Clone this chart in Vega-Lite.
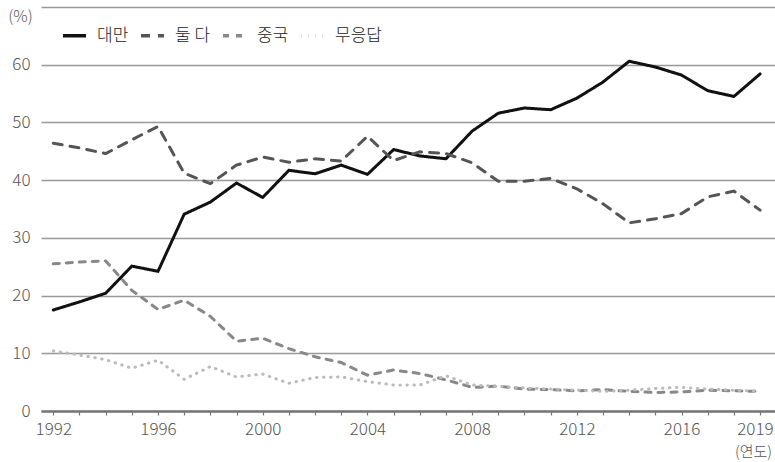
{
  "$schema": "https://vega.github.io/schema/vega-lite/v6.json",
  "width": 734,
  "height": 404,
  "autosize": {"type": "none"},
  "padding": {"left": 41, "top": 7, "right": 0, "bottom": 51},
  "background": "white",
  "config": {
    "view": {"stroke": null},
    "font": "Noto Sans CJK KR"
  },
  "datasets": {
    "main": [
      {"year": 1992, "group": "대만", "value": 17.5},
      {"year": 1993, "group": "대만", "value": 18.9},
      {"year": 1994, "group": "대만", "value": 20.4},
      {"year": 1995, "group": "대만", "value": 25.1},
      {"year": 1996, "group": "대만", "value": 24.2},
      {"year": 1997, "group": "대만", "value": 34.1},
      {"year": 1998, "group": "대만", "value": 36.2},
      {"year": 1999, "group": "대만", "value": 39.5},
      {"year": 2000, "group": "대만", "value": 37.0},
      {"year": 2001, "group": "대만", "value": 41.7},
      {"year": 2002, "group": "대만", "value": 41.1},
      {"year": 2003, "group": "대만", "value": 42.6},
      {"year": 2004, "group": "대만", "value": 41.0},
      {"year": 2005, "group": "대만", "value": 45.3},
      {"year": 2006, "group": "대만", "value": 44.2},
      {"year": 2007, "group": "대만", "value": 43.7},
      {"year": 2008, "group": "대만", "value": 48.5},
      {"year": 2009, "group": "대만", "value": 51.6},
      {"year": 2010, "group": "대만", "value": 52.5},
      {"year": 2011, "group": "대만", "value": 52.2},
      {"year": 2012, "group": "대만", "value": 54.2},
      {"year": 2013, "group": "대만", "value": 57.0},
      {"year": 2014, "group": "대만", "value": 60.6},
      {"year": 2015, "group": "대만", "value": 59.6},
      {"year": 2016, "group": "대만", "value": 58.2},
      {"year": 2017, "group": "대만", "value": 55.5},
      {"year": 2018, "group": "대만", "value": 54.5},
      {"year": 2019, "group": "대만", "value": 58.4},
      {"year": 1992, "group": "둘 다", "value": 46.4},
      {"year": 1993, "group": "둘 다", "value": 45.6},
      {"year": 1994, "group": "둘 다", "value": 44.6},
      {"year": 1995, "group": "둘 다", "value": 47.0},
      {"year": 1996, "group": "둘 다", "value": 49.3},
      {"year": 1997, "group": "둘 다", "value": 41.2},
      {"year": 1998, "group": "둘 다", "value": 39.4},
      {"year": 1999, "group": "둘 다", "value": 42.6},
      {"year": 2000, "group": "둘 다", "value": 44.0},
      {"year": 2001, "group": "둘 다", "value": 43.1},
      {"year": 2002, "group": "둘 다", "value": 43.7},
      {"year": 2003, "group": "둘 다", "value": 43.3},
      {"year": 2004, "group": "둘 다", "value": 47.6},
      {"year": 2005, "group": "둘 다", "value": 43.4},
      {"year": 2006, "group": "둘 다", "value": 44.9},
      {"year": 2007, "group": "둘 다", "value": 44.6},
      {"year": 2008, "group": "둘 다", "value": 43.0},
      {"year": 2009, "group": "둘 다", "value": 39.8},
      {"year": 2010, "group": "둘 다", "value": 39.8},
      {"year": 2011, "group": "둘 다", "value": 40.3},
      {"year": 2012, "group": "둘 다", "value": 38.5},
      {"year": 2013, "group": "둘 다", "value": 35.9},
      {"year": 2014, "group": "둘 다", "value": 32.6},
      {"year": 2015, "group": "둘 다", "value": 33.3},
      {"year": 2016, "group": "둘 다", "value": 34.2},
      {"year": 2017, "group": "둘 다", "value": 37.1},
      {"year": 2018, "group": "둘 다", "value": 38.1},
      {"year": 2019, "group": "둘 다", "value": 34.8},
      {"year": 1992, "group": "중국", "value": 25.5},
      {"year": 1993, "group": "중국", "value": 25.8},
      {"year": 1994, "group": "중국", "value": 26.0},
      {"year": 1995, "group": "중국", "value": 20.9},
      {"year": 1996, "group": "중국", "value": 17.6},
      {"year": 1997, "group": "중국", "value": 19.2},
      {"year": 1998, "group": "중국", "value": 16.4},
      {"year": 1999, "group": "중국", "value": 12.1},
      {"year": 2000, "group": "중국", "value": 12.6},
      {"year": 2001, "group": "중국", "value": 10.8},
      {"year": 2002, "group": "중국", "value": 9.4},
      {"year": 2003, "group": "중국", "value": 8.4},
      {"year": 2004, "group": "중국", "value": 6.2},
      {"year": 2005, "group": "중국", "value": 7.1},
      {"year": 2006, "group": "중국", "value": 6.5},
      {"year": 2007, "group": "중국", "value": 5.4},
      {"year": 2008, "group": "중국", "value": 4.1},
      {"year": 2009, "group": "중국", "value": 4.3},
      {"year": 2010, "group": "중국", "value": 3.8},
      {"year": 2011, "group": "중국", "value": 3.7},
      {"year": 2012, "group": "중국", "value": 3.5},
      {"year": 2013, "group": "중국", "value": 3.7},
      {"year": 2014, "group": "중국", "value": 3.4},
      {"year": 2015, "group": "중국", "value": 3.2},
      {"year": 2016, "group": "중국", "value": 3.3},
      {"year": 2017, "group": "중국", "value": 3.6},
      {"year": 2018, "group": "중국", "value": 3.5},
      {"year": 2019, "group": "중국", "value": 3.4},
      {"year": 1992, "group": "무응답", "value": 10.4},
      {"year": 1993, "group": "무응답", "value": 9.7},
      {"year": 1994, "group": "무응답", "value": 8.9},
      {"year": 1995, "group": "무응답", "value": 7.4},
      {"year": 1996, "group": "무응답", "value": 8.8},
      {"year": 1997, "group": "무응답", "value": 5.5},
      {"year": 1998, "group": "무응답", "value": 7.7},
      {"year": 1999, "group": "무응답", "value": 5.9},
      {"year": 2000, "group": "무응답", "value": 6.4},
      {"year": 2001, "group": "무응답", "value": 4.8},
      {"year": 2002, "group": "무응답", "value": 5.8},
      {"year": 2003, "group": "무응답", "value": 5.9},
      {"year": 2004, "group": "무응답", "value": 5.1},
      {"year": 2005, "group": "무응답", "value": 4.5},
      {"year": 2006, "group": "무응답", "value": 4.5},
      {"year": 2007, "group": "무응답", "value": 6.1},
      {"year": 2008, "group": "무응답", "value": 4.5},
      {"year": 2009, "group": "무응답", "value": 4.3},
      {"year": 2010, "group": "무응답", "value": 4.0},
      {"year": 2011, "group": "무응답", "value": 3.8},
      {"year": 2012, "group": "무응답", "value": 3.6},
      {"year": 2013, "group": "무응답", "value": 3.4},
      {"year": 2014, "group": "무응답", "value": 3.6},
      {"year": 2015, "group": "무응답", "value": 3.9},
      {"year": 2016, "group": "무응답", "value": 4.1},
      {"year": 2017, "group": "무응답", "value": 3.8},
      {"year": 2018, "group": "무응답", "value": 3.6},
      {"year": 2019, "group": "무응답", "value": 3.4}
    ]
  },
  "data": {"name": "main"},
  "mark": {"type": "line", "strokeWidth": 3, "strokeCap": "round", "strokeJoin": "miter"},
  "encoding": {
    "x": {
      "field": "year",
      "type": "quantitative",
      "scale": {"domain": [1991.53, 2019.57], "nice": false, "zero": false},
      "axis": {
        "title": "(연도)",
        "titleX": 712,
        "titleY": 40,
        "titleAlign": "center",
        "titleBaseline": "middle",
        "titleFontSize": 15,
        "titleFontWeight": 300,
        "titleColor": "#555",
        "values": [1992,1993,1994,1995,1996,1997,1998,1999,2000,2001,2002,2003,2004,2005,2006,2007,2008,2009,2010,2011,2012,2013,2014,2015,2016,2017,2018,2019],
        "labelExpr": "(datum.value % 4 == 0 || datum.value == 2019) ? datum.value + '' : ''",
        "labelAlign": {"condition": {"test": "datum.value == 2019", "value": "right"}, "value": "center"},
        "labelOffset": {"condition": {"test": "datum.value == 2019", "value": 13}, "value": 0},
        "grid": false,
        "domainColor": "#777",
        "domainWidth": 2.5,
        "tickColor": "#777",
        "tickSize": 4,
        "tickWidth": 1.2,
        "labelFontSize": 17,
        "labelFontWeight": 300,
        "labelColor": "#555",
        "labelPadding": 6,
        "labelOverlap": false,
        "labelFlush": false
      }
    },
    "y": {
      "field": "value",
      "type": "quantitative",
      "scale": {"domain": [0, 70], "nice": false},
      "axis": {
        "title": "(%)",
        "titleAngle": 0,
        "titleX": -21,
        "titleY": 9,
        "titleAlign": "center",
        "titleBaseline": "middle",
        "titleFontSize": 16,
        "titleFontWeight": 300,
        "titleColor": "#555",
        "values": [0, 10, 20, 30, 40, 50, 60, 70],
        "labelExpr": "datum.value == 70 ? '' : datum.value + ''",
        "domain": false,
        "ticks": false,
        "grid": true,
        "gridColor": "#999",
        "gridWidth": 1.5,
        "labelFontSize": 17,
        "labelFontWeight": 300,
        "labelColor": "#555",
        "labelPadding": 11
      }
    },
    "color": {
      "field": "group",
      "type": "nominal",
      "scale": {"domain": ["대만", "둘 다", "중국", "무응답"], "range": ["#111111", "#555555", "#888888", "#bbbbbb"]},
      "legend": {
        "title": null,
        "orient": "none",
        "legendX": 20,
        "legendY": 15,
        "direction": "horizontal",
        "symbolType": "stroke",
        "symbolSize": 530,
        "symbolStrokeWidth": 3.5,
        "labelFontSize": 17,
        "labelFontWeight": 300,
        "labelColor": "#222",
        "columnPadding": 4,
        "labelOffset": 9
      }
    },
    "strokeDash": {
      "field": "group",
      "type": "nominal",
      "scale": {"domain": ["대만", "둘 다", "중국", "무응답"], "range": [[1, 0], [9, 8], [6, 7], [0.5, 6.5]]},
      "legend": null
    },
    "order": {"field": "year", "type": "quantitative"}
  }
}
